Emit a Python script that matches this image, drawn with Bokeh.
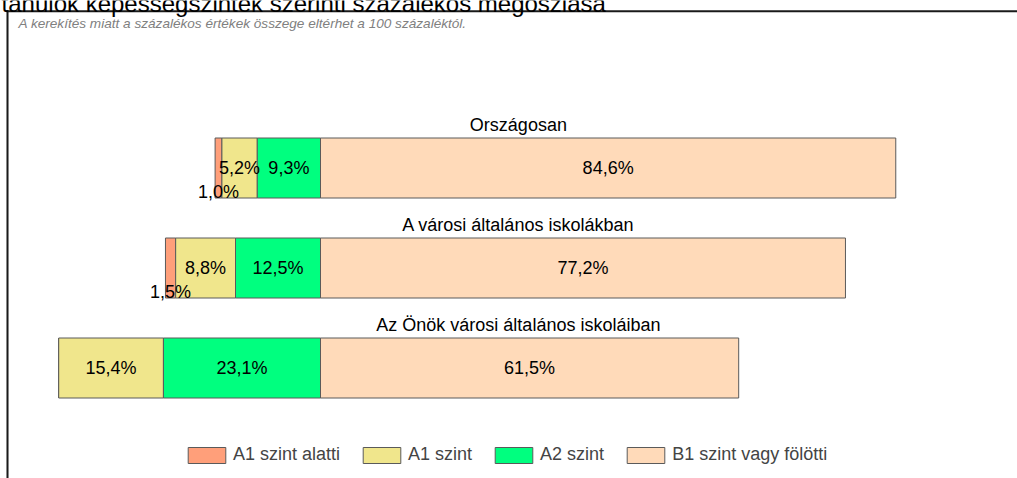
import numpy as np
from bokeh.plotting import figure
from bokeh.models import ColumnDataSource, Range1d, Legend, LegendItem, Label, BoxAnnotation
from bokeh.core.properties import value
from bokeh.embed import file_html
from bokeh.resources import INLINE

# ---- data ----
groups = ["Országosan", "A városi általános iskolákban", "Az Önök városi általános iskoláiban"]
levels = ["A1 szint alatti", "A1 szint", "A2 szint", "B1 szint vagy fölötti"]
a1_below = [1.0, 1.5, 0.0]
a1 = [5.2, 8.8, 15.4]
a2 = [9.3, 12.5, 23.1]
b1 = [84.6, 77.2, 61.5]
colors = ["#FF9F7A", "#F0E68C", "#00FF7F", "#FFDAB9"]
note = "A kerekítés miatt a  százalékos értékek összege eltérhet a 100 százaléktól."
title = "tanulók képességszintek szerinti százalékos megoszlása"

FONT = "Liberation Sans"

ys = np.arange(len(groups), dtype=float)
A = np.array(a1_below); B = np.array(a1); C = np.array(a2); D = np.array(b1)
lefts = [-(A + B + C), -(B + C), -C, np.zeros_like(D)]
rights = [-(B + C), -C, np.zeros_like(C), D]
vals = [A, B, C, D]

p = figure(width=1017, height=478, output_backend="svg", toolbar_location=None,
           x_range=Range1d(-47.06, 102.5), y_range=Range1d(3.105, -1.675),
           x_axis_location=None, y_axis_location=None, min_border=0,
           outline_line_color=None, background_fill_color="white")
p.grid.visible = False

# frame (top and left border lines)
p.add_layout(BoxAnnotation(left=-46.18, right=None, top=-1.577, bottom=-1.557,
                           fill_color="#1a1a1a", fill_alpha=1, line_alpha=0))
p.add_layout(BoxAnnotation(left=-46.18, right=-45.88, top=-1.577, bottom=None,
                           fill_color="#1a1a1a", fill_alpha=1, line_alpha=0))

renderers = []
for k in range(4):
    src = ColumnDataSource(dict(y=ys, left=lefts[k], right=rights[k]))
    r = p.hbar(y="y", left="left", right="right", height=0.6, source=src,
               fill_color=colors[k], line_color="#5a5a5a", line_width=1)
    renderers.append(r)

# value labels
lx, ly, lt = [], [], []
for k in range(4):
    for i in range(len(groups)):
        v = vals[k][i]
        if v <= 0:
            continue
        lx.append((lefts[k][i] + rights[k][i]) / 2)
        ly.append(ys[i] + (0.235 if v < 3 else 0.0))
        lt.append(f"{v:.1f}".replace(".", ",") + "%")
p.text(x=lx, y=ly, text=lt, text_align="center", text_baseline="middle",
       text_font=value(FONT), text_font_size="18px", text_color="black")

# group titles
for i, g in enumerate(groups):
    p.add_layout(Label(x=29.1, y=ys[i] - 0.43, text=g, text_align="center",
                       text_baseline="middle", text_font=FONT, text_font_size="18px",
                       text_color="black"))

# note and (cropped) title
p.add_layout(Label(x=-44.4, y=-1.525, text=note, text_align="left", text_baseline="top",
                   text_font=FONT, text_font_style="italic",
                   text_font_size="13.6px", text_color="#808080"))
p.add_layout(Label(x=-46.9, y=-1.645, text=title, text_align="left", text_baseline="alphabetic",
                   text_font=FONT, text_font_size="24px", text_color="black"))

legend = Legend(items=[LegendItem(label=levels[k], renderers=[renderers[k]]) for k in range(4)],
                orientation="horizontal", location=(183, 13),
                glyph_width=47, glyph_height=20, label_standoff=3, spacing=18,
                padding=0, margin=0, border_line_alpha=0, background_fill_alpha=0,
                label_text_font=FONT, label_text_font_size="18px", label_height=20)
p.add_layout(legend, "center")

open("out.html", "w").write(file_html(p, INLINE))
